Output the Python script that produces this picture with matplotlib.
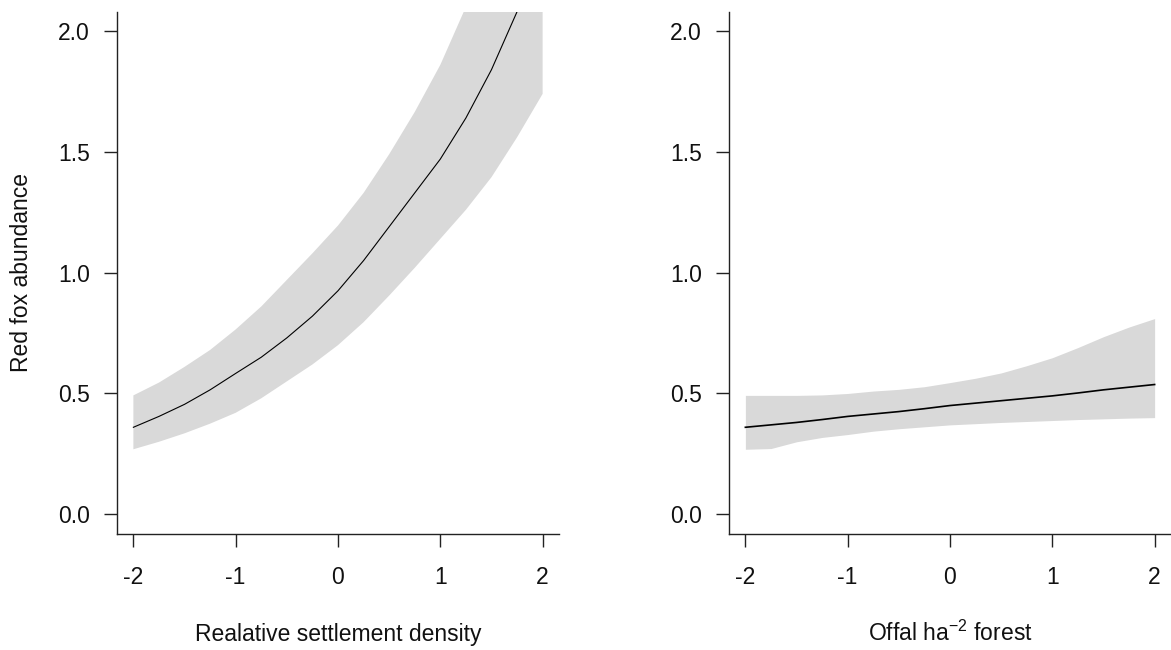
import numpy as np
import matplotlib
matplotlib.use("Agg")
import matplotlib.pyplot as plt

plt.rcParams['font.family'] = ['Liberation Sans', 'DejaVu Sans']
plt.rcParams['mathtext.fontset'] = 'custom'
plt.rcParams['mathtext.rm'] = 'Liberation Sans'
plt.rcParams['mathtext.default'] = 'regular'

# standardised predictor values (shared by both panels)
x_std = [-2.0, -1.75, -1.5, -1.25, -1.0, -0.75, -0.5, -0.25, 0.0,
         0.25, 0.5, 0.75, 1.0, 1.25, 1.5, 1.75, 2.0]

# predicted abundance vs. settlement density, with 95% band
settle_fit = [0.36, 0.405, 0.455, 0.515, 0.583, 0.65, 0.73, 0.82, 0.925,
              1.05, 1.19, 1.33, 1.47, 1.64, 1.84, 2.08, 2.35]
settle_lo = [0.269, 0.30, 0.335, 0.375, 0.42, 0.48, 0.55, 0.62, 0.70,
             0.795, 0.905, 1.02, 1.14, 1.26, 1.395, 1.56, 1.74]
settle_hi = [0.492, 0.545, 0.61, 0.68, 0.765, 0.86, 0.97, 1.08, 1.195,
             1.33, 1.49, 1.665, 1.86, 2.10, 2.40, 2.75, 3.15]

# predicted abundance vs. offal per ha forest
offal_fit = [0.36, 0.37, 0.38, 0.392, 0.405, 0.415, 0.425, 0.437, 0.45,
             0.46, 0.47, 0.48, 0.49, 0.502, 0.515, 0.526, 0.537]
offal_lo = [0.269, 0.272, 0.30, 0.318, 0.33, 0.344, 0.354, 0.362, 0.37,
            0.375, 0.38, 0.384, 0.388, 0.392, 0.395, 0.398, 0.40]
offal_hi = [0.492, 0.492, 0.492, 0.494, 0.50, 0.51, 0.517, 0.528, 0.545,
            0.563, 0.585, 0.615, 0.648, 0.69, 0.735, 0.775, 0.81]

x_ticks = [-2, -1, 0, 1, 2]
y_ticks = [0.0, 0.5, 1.0, 1.5, 2.0]

W, H = 1171, 650
fig = plt.figure(figsize=(W / 100, H / 100), dpi=100)

panels = [
    (117, settle_fit, settle_lo, settle_hi, "Realative settlement density", 0.8),
    (729, offal_fit, offal_lo, offal_hi, "Offal ha$^{-2}$ forest", 1.2),
]

bottom_px, top_px = 533.6, 11.7
for i, (left_px, fit, lo, hi, xlab, lw) in enumerate(panels):
    ax = fig.add_axes([left_px / W, (H - bottom_px) / H,
                       442 / W, (bottom_px - top_px) / H])
    ax.fill_between(x_std, lo, hi, color='#d9d9d9', linewidth=0)
    ax.plot(x_std, fit, color='black', lw=lw)
    ax.set_xlim(-2.16, 2.16)
    ax.set_ylim(-0.08, 2.08)
    ax.set_xticks(x_ticks)
    ax.set_xticklabels([str(t) for t in x_ticks])
    ax.set_yticks(y_ticks)
    ax.set_yticklabels([f"{t:.1f}" for t in y_ticks])
    for side in ('top', 'right'):
        ax.spines[side].set_visible(False)
    for side in ('left', 'bottom'):
        ax.spines[side].set_linewidth(1.0)
        ax.spines[side].set_color('#222222')
    ax.tick_params(direction='out', length=9.5, width=1.0, color='#222222',
                   labelsize=16.5, labelcolor='#111111')
    ax.tick_params(axis='x', pad=14)
    ax.tick_params(axis='y', pad=10)
    # x labels sit on a common baseline below both panels
    fig.text((left_px + 221) / W, 9 / H, xlab, ha='center', va='baseline',
             fontsize=16.5, color='#111111')
    if i == 0:
        ax.set_ylabel("Red fox abundance", fontsize=16.5, color='#111111',
                      labelpad=18)

fig.savefig("out.png", dpi=100)
